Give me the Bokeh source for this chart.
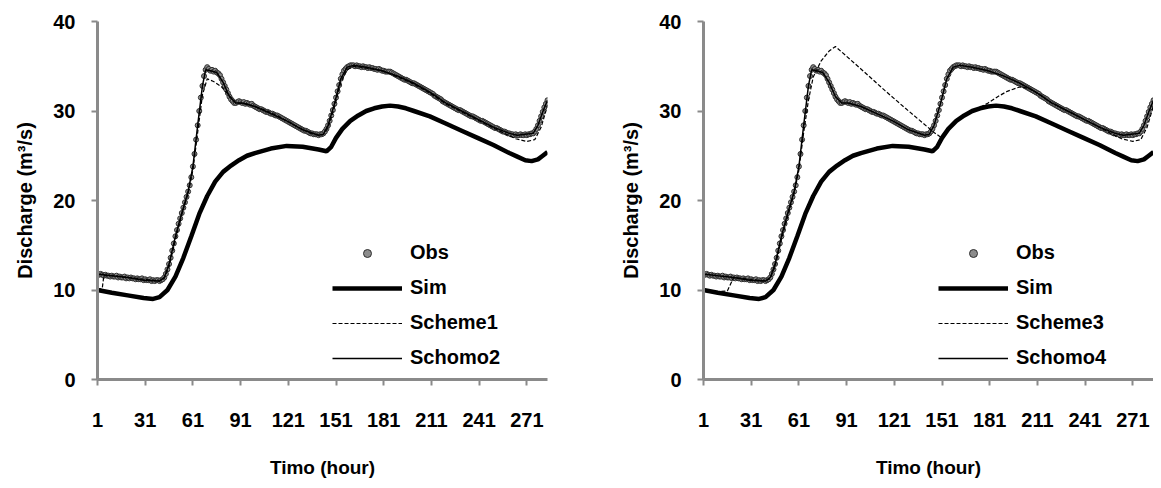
from bokeh.plotting import figure
from bokeh.layouts import row
from bokeh.models import Range1d, FixedTicker, Legend, LegendItem
from bokeh.embed import file_html
from bokeh.resources import INLINE

# ---------------- data ----------------
x_ticks = [1, 31, 61, 91, 121, 151, 181, 211, 241, 271]
y_ticks = [0, 10, 20, 30, 40]

obs = [
    11.8, 11.7, 11.8, 11.7, 11.6, 11.7, 11.6, 11.6, 11.5, 11.6,
    11.5, 11.5, 11.6, 11.4, 11.5, 11.4, 11.4, 11.5, 11.3, 11.4,
    11.3, 11.4, 11.3, 11.3, 11.2, 11.3, 11.2, 11.2, 11.3, 11.1,
    11.2, 11.1, 11.1, 11.2, 11.0, 11.1, 11.0, 11.1, 11.1, 11.0,
    11.1, 11.2, 11.4, 11.8, 12.3, 12.9, 13.6, 14.4, 15.2, 16.0,
    16.7, 17.4, 18.0, 18.6, 19.2, 19.8, 20.4, 21.0, 21.7, 22.6,
    23.8, 25.2, 26.8, 28.4, 30.0, 31.5, 32.8, 33.9, 34.6, 34.9,
    34.7, 34.5, 34.6, 34.4, 34.5, 34.3, 34.2, 34.0, 33.6, 33.2,
    32.8, 32.4, 32.0, 31.6, 31.3, 31.1, 30.9, 30.9, 31.0, 31.1,
    31.0, 30.9, 31.0, 30.8, 30.9, 30.8, 30.7, 30.8, 30.6, 30.5,
    30.4, 30.3, 30.2, 30.2, 30.1, 30.0, 29.9, 29.9, 29.8, 29.7,
    29.7, 29.6, 29.5, 29.5, 29.4, 29.3, 29.2, 29.1, 29.0, 28.9,
    28.8, 28.7, 28.6, 28.5, 28.4, 28.3, 28.2, 28.1, 28.0, 27.9,
    27.8, 27.8, 27.7, 27.6, 27.5, 27.5, 27.4, 27.4, 27.4, 27.3,
    27.4, 27.4, 27.5, 27.7, 28.0, 28.4, 28.9, 29.5, 30.1, 30.8,
    31.5, 32.2, 32.9, 33.6, 34.1, 34.5, 34.7, 34.9, 35.0, 35.1,
    35.1, 35.1, 35.0, 35.1, 35.0, 35.0, 34.9, 35.0, 34.9, 34.9,
    34.8, 34.9, 34.8, 34.8, 34.7, 34.7, 34.6, 34.7, 34.6, 34.5,
    34.5, 34.4, 34.4, 34.4, 34.4, 34.3, 34.2, 34.1, 34.0, 33.9,
    33.8, 33.7, 33.6, 33.5, 33.5, 33.4, 33.3, 33.2, 33.1, 33.1,
    33.0, 32.9, 32.8, 32.7, 32.6, 32.5, 32.4, 32.3, 32.2, 32.1,
    32.0, 31.9, 31.7, 31.6, 31.5, 31.4, 31.3, 31.1, 31.0, 30.9,
    30.8, 30.7, 30.6, 30.5, 30.4, 30.3, 30.2, 30.1, 30.1, 30.0,
    29.9, 29.8, 29.7, 29.6, 29.5, 29.4, 29.4, 29.3, 29.2, 29.1,
    29.0, 28.9, 28.9, 28.8, 28.7, 28.6, 28.5, 28.4, 28.3, 28.2,
    28.1, 28.1, 28.0, 27.9, 27.8, 27.7, 27.7, 27.6, 27.5, 27.5,
    27.4, 27.4, 27.3, 27.4, 27.3, 27.3, 27.4, 27.3, 27.3, 27.4,
    27.3, 27.4, 27.4, 27.5, 27.5, 27.7, 28.0, 28.4, 28.9, 29.4,
    29.9, 30.4, 30.8, 31.2,
]
obs_hours = list(range(1, len(obs) + 1))

sim_x = [1, 10, 20, 30, 36, 40, 45, 50, 55, 60, 65, 70, 75, 80, 85, 90, 95, 100,
         110, 120, 130, 140, 145, 148, 151, 155, 160, 165, 170, 175, 180, 185, 190,
         195, 200, 210, 220, 230, 240, 250, 260, 265, 270, 274, 278, 281, 284]
sim_y = [10.0, 9.7, 9.4, 9.1, 9.0, 9.2, 10.0, 11.5, 13.6, 16.0, 18.5, 20.5, 22.1,
         23.2, 23.9, 24.5, 25.0, 25.3, 25.8, 26.1, 26.0, 25.7, 25.5, 26.0, 27.0,
         28.0, 28.9, 29.5, 30.0, 30.3, 30.5, 30.6, 30.5, 30.3, 30.0, 29.4, 28.6,
         27.8, 27.0, 26.2, 25.3, 24.9, 24.5, 24.4, 24.6, 25.0, 25.4]

scheme1_x = [1, 4, 5, 10, 20, 30, 40, 43, 46, 50, 54, 58, 61, 64, 67, 70, 74, 79,
             84, 88, 95, 105, 115, 125, 135, 140, 143, 146, 150, 154, 158, 162,
             170, 180, 190, 200, 210, 220, 230, 240, 250, 258, 264, 271, 276, 280, 284]
scheme1_y = [10.0, 10.2, 11.6, 11.6, 11.4, 11.2, 11.0, 11.3, 12.6, 15.6, 18.4,
             20.8, 23.4, 27.6, 31.8, 33.6, 33.3, 32.7, 31.7, 30.9, 30.8, 30.2,
             29.4, 28.4, 27.5, 27.3, 27.4, 28.1, 30.4, 33.2, 34.6, 35.0, 34.8,
             34.5, 33.8, 33.0, 32.0, 30.8, 29.9, 29.0, 28.1, 27.4, 26.9, 26.6,
             26.8, 28.2, 30.6]

schomo2_x = [1, 10, 20, 30, 40, 43, 46, 50, 54, 58, 61, 64, 67, 69, 72, 76, 80,
             84, 88, 92, 100, 110, 120, 130, 140, 143, 146, 150, 154, 158, 162,
             170, 180, 190, 200, 210, 220, 230, 240, 250, 260, 265, 270, 275,
             278, 281, 284]
schomo2_y = [11.8, 11.6, 11.4, 11.1, 11.0, 11.4, 12.9, 16.0, 18.6, 21.0, 23.8,
             28.4, 32.8, 34.6, 34.5, 34.3, 33.2, 31.6, 30.9, 30.9, 30.5, 29.7,
             28.9, 27.9, 27.3, 27.4, 28.4, 30.8, 33.6, 34.9, 35.1, 34.9, 34.5,
             33.9, 33.1, 32.1, 30.9, 30.0, 29.1, 28.2, 27.5, 27.3, 27.4, 27.5,
             28.4, 29.9, 31.2]

scheme3_x = [1, 10, 16, 20, 30, 40, 43, 46, 50, 55, 58, 61, 64, 67, 70, 75, 80,
             84, 100, 115, 128, 146, 150, 155, 160, 165, 170, 175, 180, 187, 192,
             200, 206, 210, 220, 230, 240, 250, 258, 264, 271, 276, 280, 284]
scheme3_y = [10.0, 9.8, 9.9, 11.4, 11.2, 11.0, 11.3, 12.6, 15.6, 18.9, 20.8,
             23.4, 27.6, 31.2, 33.8, 35.6, 36.7, 37.2, 34.7, 32.3, 30.3, 27.6,
             27.1, 28.0, 28.9, 29.5, 30.0, 30.4, 30.9, 31.7, 32.2, 32.7, 32.5,
             32.1, 30.9, 30.0, 29.1, 28.2, 27.4, 26.9, 26.6, 26.8, 28.2, 30.6]

schomo4_x = [1, 10, 20, 30, 40, 43, 46, 50, 54, 58, 61, 64, 67, 69, 72, 76, 80,
             84, 88, 92, 100, 110, 120, 130, 140, 143, 146, 150, 154, 158, 162,
             170, 180, 190, 200, 210, 220, 230, 240, 250, 260, 265, 270, 275,
             278, 281, 284]
schomo4_y = [11.8, 11.6, 11.4, 11.1, 11.0, 11.4, 12.9, 16.0, 18.6, 21.0, 23.8,
             28.4, 32.8, 34.6, 34.5, 34.3, 33.2, 31.6, 30.9, 30.9, 30.5, 29.7,
             28.9, 27.9, 27.3, 27.4, 28.4, 30.8, 33.6, 34.9, 35.1, 34.9, 34.5,
             33.9, 33.1, 32.1, 30.9, 30.0, 29.1, 28.2, 27.5, 27.3, 27.4, 27.5,
             28.4, 29.9, 31.2]

x_title = "Timo (hour)"
y_title = "Discharge (m³/s)"

FONT = "Liberation Sans"
AXIS_GREY = "#8a8a8a"


def make_fig(width, border_left, border_right,
             sch_x, sch_y, sch_name, sho_x, sho_y, sho_name):
    p = figure(width=width, height=480, output_backend="svg",
               toolbar_location=None,
               x_range=Range1d(1, 284), y_range=Range1d(0, 40))
    p.min_border_left = border_left
    p.min_border_right = border_right
    p.min_border_top = 21
    p.min_border_bottom = 97
    p.outline_line_color = None
    p.background_fill_color = "white"
    p.border_fill_color = "white"
    p.xgrid.visible = False
    p.ygrid.visible = False

    for ax in (p.xaxis, p.yaxis):
        ax.axis_line_color = AXIS_GREY
        ax.axis_line_width = 3
        ax.major_tick_line_color = AXIS_GREY
        ax.major_tick_line_width = 2
        ax.major_tick_out = 6
        ax.major_tick_in = 0
        ax.minor_tick_line_color = None
        ax.major_label_text_font = FONT
        ax.major_label_text_font_style = "bold"
        ax.major_label_text_font_size = "20px"
        ax.major_label_text_color = "black"
        ax.axis_label_text_font = FONT
        ax.axis_label_text_font_style = "bold"
        ax.axis_label_text_color = "black"

    p.xaxis.ticker = FixedTicker(ticks=x_ticks)
    p.yaxis.ticker = FixedTicker(ticks=y_ticks)
    p.xaxis.major_label_standoff = 27
    p.yaxis.major_label_standoff = 16
    p.xaxis.axis_label = x_title
    p.yaxis.axis_label = y_title
    p.xaxis.axis_label_text_font_size = "19px"
    p.yaxis.axis_label_text_font_size = "20px"
    p.xaxis.axis_label_standoff = 27
    p.yaxis.axis_label_standoff = 14

    r_obs = p.scatter(obs_hours, obs, marker="circle", size=5,
                      fill_color="#8c8c8c", line_color="#303030", line_width=1)
    r_sim = p.line(sim_x, sim_y, line_color="black", line_width=4.5)
    r_sch = p.line(sch_x, sch_y, line_color="black", line_width=1.2,
                   line_dash="4 2")
    r_sho = p.line(sho_x, sho_y, line_color="black", line_width=1.5)

    legend = Legend(items=[
        LegendItem(label="Obs", renderers=[r_obs]),
        LegendItem(label="Sim", renderers=[r_sim]),
        LegendItem(label=sch_name, renderers=[r_sch]),
        LegendItem(label=sho_name, renderers=[r_sho]),
    ])
    legend.location = (235, 10)
    legend.padding = 0
    legend.margin = 0
    legend.spacing = 12
    legend.glyph_width = 70
    legend.glyph_height = 20
    legend.label_height = 20
    legend.label_standoff = 8
    legend.label_text_font = FONT
    legend.label_text_font_style = "bold"
    legend.label_text_font_size = "20px"
    legend.label_text_color = "black"
    legend.border_line_color = None
    legend.background_fill_alpha = 0
    p.add_layout(legend, "center")
    return p


p1 = make_fig(588, 97, 41, scheme1_x, scheme1_y, "Scheme1",
              schomo2_x, schomo2_y, "Schomo2")
p2 = make_fig(565, 115, 0, scheme3_x, scheme3_y, "Scheme3",
              schomo4_x, schomo4_y, "Schomo4")

layout = row(p1, p2)
open("out.html", "w").write(file_html(layout, INLINE))
